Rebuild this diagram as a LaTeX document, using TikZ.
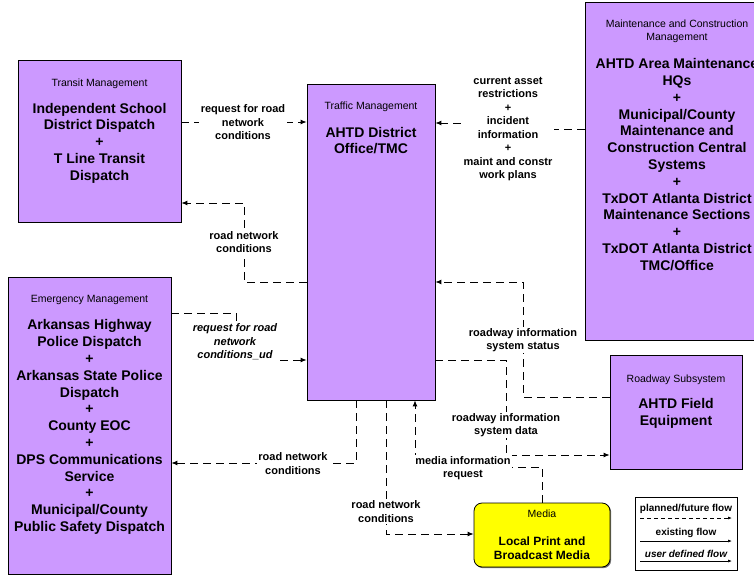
\documentclass[tikz,border=0pt]{standalone}
\usepackage{fontspec}
\setmainfont{Liberation Sans}
\usetikzlibrary{arrows.meta,shadows}
\definecolor{boxpurple}{RGB}{204,153,255}
\definecolor{mediayellow}{RGB}{255,255,0}
\begin{document}
\begin{tikzpicture}[x=1pt,y=-1pt,
  box/.style={draw=black, line width=0.8pt, fill=boxpurple, rectangle, inner sep=0pt,
    drop shadow={shadow xshift=1.2pt, shadow yshift=-1.2pt, fill=black!55, opacity=1}},
  mediabox/.style={box, fill=mediayellow, rounded corners=8pt},
  legendbox/.style={draw=black, line width=0.8pt, fill=white, rectangle, inner sep=0pt,
    drop shadow={shadow xshift=1.2pt, shadow yshift=-1.2pt, fill=black!40, opacity=1}},
  ttl/.style={font=\fontsize{10.5}{13}\selectfont, align=center, inner sep=0pt},
  maintext/.style={font=\fontsize{14}{16.8}\selectfont\bfseries, align=center, inner sep=0pt},
  medtext/.style={font=\fontsize{12}{14}\selectfont\bfseries, align=center, inner sep=0pt},
  lab/.style={font=\fontsize{11}{13.5}\selectfont\bfseries, align=center, fill=white, inner sep=1.5pt},
  ilab/.style={lab, font=\fontsize{11}{13.5}\selectfont\bfseries\itshape},
  legtext/.style={font=\fontsize{10}{12}\selectfont\bfseries, inner sep=0pt},
  flow/.style={draw=black, line width=0.9pt, dash pattern=on 8pt off 5pt,
    -{Latex[length=6pt,width=5pt]}},
  legflow/.style={draw=black, line width=0.7pt, -{Latex[length=4pt,width=3pt]}}
]
\clip (0,0) rectangle (754,575);
\fill[white] (0,0) rectangle (754,575);

% boxes
\node[box, minimum width=163pt, minimum height=162pt] (transit) at (99.5,141) {};
\node[box, minimum width=128pt, minimum height=316pt] (tm) at (371,242) {};
\node[box, minimum width=184pt, minimum height=338pt] (maint) at (677,171) {};
\node[box, minimum width=163pt, minimum height=297pt] (emer) at (89.5,425.5) {};
\node[box, minimum width=132pt, minimum height=114pt] (road) at (676,412) {};
\node[mediabox, minimum width=136pt, minimum height=64pt] (media) at (542,535) {};
\node[legendbox, minimum width=102pt, minimum height=73pt] (legend) at (686,533.5) {};

% box texts
\node[ttl] (transitT) at (99.5,84) {Transit Management};
\node[maintext] (transitM) at (99.5,143) {Independent School\\District Dispatch\\+\\T Line Transit\\Dispatch};

\node[ttl] (tmT) at (371,107) {Traffic Management};
\node[maintext] (tmM) at (371,140.5) {AHTD District\\Office/TMC};

\node[ttl] (maintT) at (677,31.5) {Maintenance and Construction\\Management};
\node[maintext] (maintM) at (677,164.5) {AHTD Area Maintenance\\HQs\\+\\Municipal/County\\Maintenance and\\Construction Central\\Systems\\+\\TxDOT Atlanta District\\Maintenance Sections\\+\\TxDOT Atlanta District\\TMC/Office};

\node[ttl] (emerT) at (89.5,300) {Emergency Management};
\node[maintext] (emerM) at (89.5,427) {Arkansas Highway\\Police Dispatch\\+\\Arkansas State Police\\Dispatch\\+\\County EOC\\+\\DPS Communications\\Service\\+\\Municipal/County\\Public Safety Dispatch};

\node[ttl] (roadT) at (676,380) {Roadway Subsystem};
\node[maintext] (roadM) at (676,413) {AHTD Field\\Equipment};

\node[ttl] (mediaT) at (542,513.5) {Media};
\node[medtext] (mediaM) at (542,548) {Local Print and\\Broadcast Media};

% helper coordinates
\coordinate (p1) at (0,122);
\coordinate (p2a) at (244,282);
\coordinate (p2b) at (244,203);
\coordinate (p3a) at (509,129);
\coordinate (p3b) at (509,123);
\coordinate (p4a) at (236,313);
\coordinate (p4b) at (236,360);
\coordinate (p5a) at (356,463);
\coordinate (p6a) at (386,534);
\coordinate (p7a) at (542,467);
\coordinate (p7b) at (415,467);
\coordinate (p8a) at (506,360);
\coordinate (p8b) at (506,455);
\coordinate (p9a) at (523,397);
\coordinate (p9b) at (523,282);

% connectors
\draw[flow] (transit.east |- p1) -- (tm.west |- p1);
\draw[flow] (tm.west |- p2a) -- (p2a) -- (p2b) -- (transit.east |- p2b);
\draw[flow] (maint.west |- p3a) -- (p3a) -- (p3b) -- (tm.east |- p3b);
\draw[flow] (emer.east |- p4a) -- (p4a) -- (p4b) -- (tm.west |- p4b);
\draw[flow] (tm.south -| p5a) -- (p5a) -- (emer.east |- p5a);
\draw[flow] (tm.south -| p6a) -- (p6a) -- (media.west |- p6a);
\draw[flow] (media.north) -- (p7a) -- (p7b) -- (tm.south -| p7b);
\draw[flow] (tm.east |- p8a) -- (p8a) -- (p8b) -- (road.west |- p8b);
\draw[flow] (road.west |- p9a) -- (p9a) -- (p9b) -- (tm.east |- p9b);

% labels
\node[lab] (l1) at (243,122.5) {request for road\\network\\conditions};
\node[lab] (l2) at (244,242) {road network\\conditions};
\node[lab] (l3) at (508,129) {current asset\\restrictions\\+\\incident\\information\\+\\maint and constr\\work plans};
\node[ilab] (l4) at (235,342) {request for road\\network\\conditions\_ud};
\node[lab] (l5) at (293,463.5) {road network\\conditions};
\node[lab] (l6) at (386,511.5) {road network\\conditions};
\node[lab] (l7) at (463,468) {media information\\request};
\node[lab] (l8) at (506,425) {roadway information\\system data};
\node[lab] (l9) at (523,340) {roadway information\\system status};

% legend
\node[legtext] (lg1) at (686,509) {planned/future flow};
\node[legtext] (lg2) at (686,533) {existing flow};
\node[legtext, font=\fontsize{10}{12}\selectfont\bfseries\itshape] (lg3) at (686,553.5) {user defined flow};
\coordinate (la1) at (640,518);
\coordinate (lb1) at (732,518);
\coordinate (la2) at (640,541);
\coordinate (lb2) at (732,541);
\coordinate (la3) at (640,561);
\coordinate (lb3) at (732,561);
\draw[legflow, dash pattern=on 4pt off 3pt] (la1) -- (lb1);
\draw[legflow] (la2) -- (lb2);
\draw[legflow] (la3) -- (lb3);
\end{tikzpicture}
\end{document}
